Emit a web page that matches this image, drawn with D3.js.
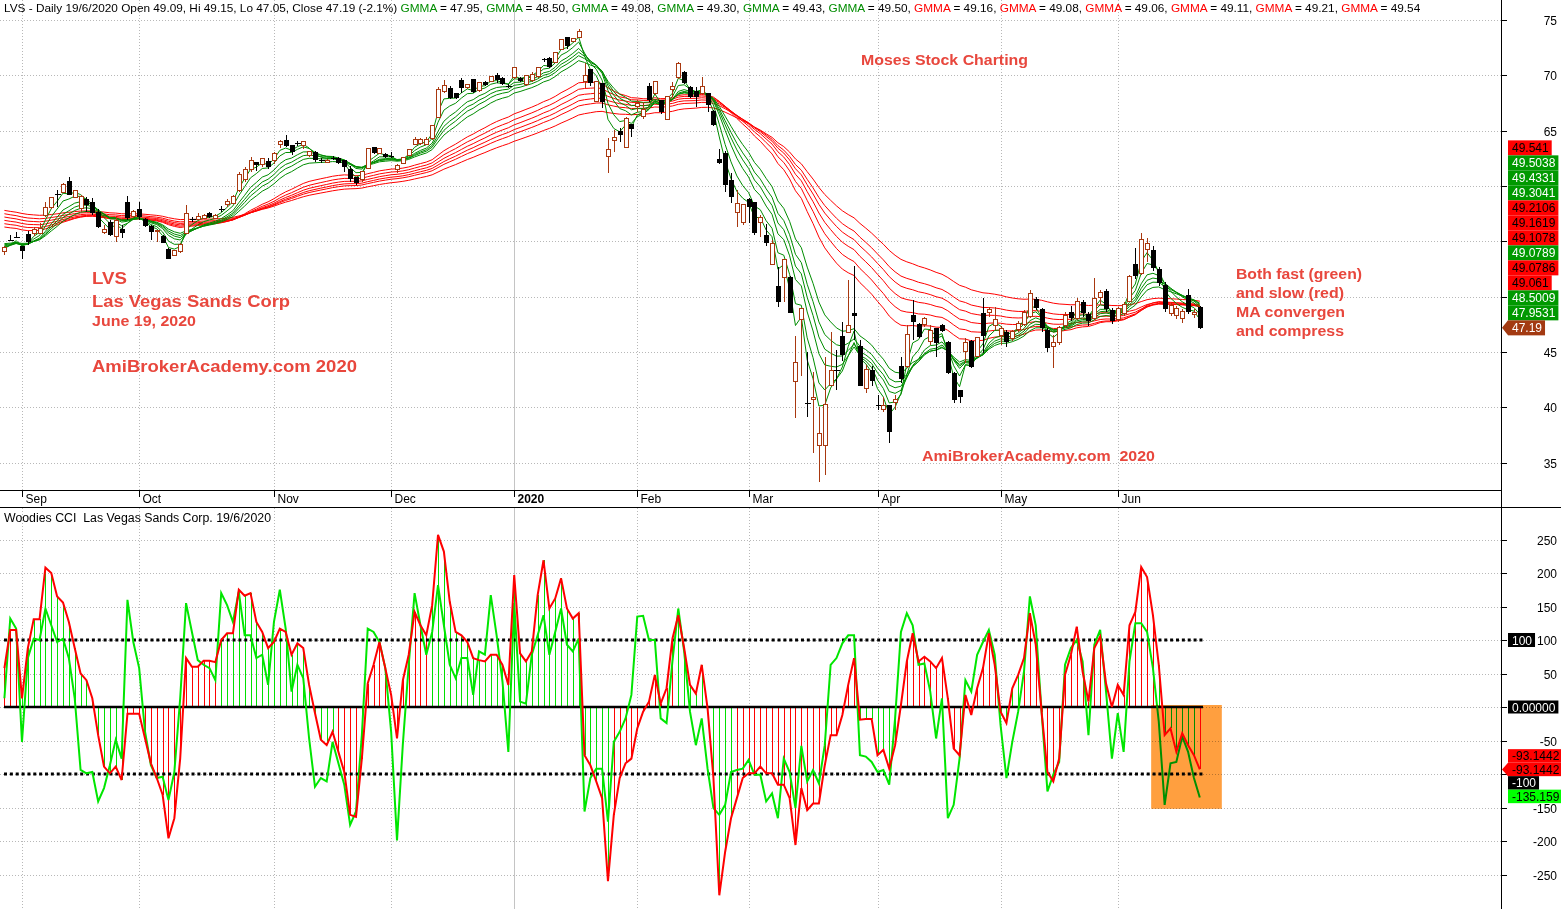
<!DOCTYPE html>
<html><head><meta charset="utf-8">
<script src="https://cdn.jsdelivr.net/npm/d3@7"></script>
<style>
body{margin:0;background:#fff;overflow:hidden}
svg{display:block;font-family:"Liberation Sans",Arial,sans-serif}
</style>
</head><body>
<svg id="c" width="1561" height="909"></svg>
<script>
// ---------------- DATA ----------------
// Daily bars, index 0 = 28 Aug 2019 ... index 204 = 19 Jun 2020
const openP = [
54.13,55.13,55.40,54.58,55.67,55.67,55.73,57.30,58.08,59.28,
59.40,60.45,58.98,57.99,58.80,58.59,57.69,55.82,56.78,55.43,
56.09,58.59,57.23,57.90,56.99,56.39,55.88,55.49,54.34,53.77,
54.07,55.73,57.00,56.99,57.08,57.60,57.08,57.90,58.29,58.44,
59.64,60.55,61.45,62.20,61.96,62.26,62.35,63.71,64.16,63.71,
63.86,63.65,62.80,63.05,62.35,62.14,62.56,62.50,62.35,61.54,
60.85,60.55,61.60,63.50,62.95,62.90,62.75,61.54,62.05,62.80,
63.77,63.86,63.77,64.31,66.18,68.50,68.83,68.38,69.58,68.89,
69.67,68.59,69.43,69.43,70.03,69.79,69.04,69.79,69.79,69.13,
69.49,69.88,71.45,71.60,71.18,72.35,73.43,73.10,73.43,69.43,
70.54,67.62,69.28,62.65,64.10,65.00,63.50,65.60,67.20,66.27,
69.04,68.32,67.77,66.03,68.68,69.82,70.33,68.98,68.62,68.38,
68.38,66.81,62.41,62.95,60.55,57.60,56.69,58.80,58.59,56.69,
55.58,52.93,50.97,51.72,51.80,42.33,47.96,40.40,40.70,36.60,
36.60,42.00,43.40,46.45,46.76,48.50,45.55,41.73,43.38,40.20,
39.77,40.22,40.44,43.70,43.69,48.35,47.54,47.45,45.94,47.20,
47.45,45.94,43.14,41.57,45.04,46.03,44.59,48.50,48.59,47.39,
46.50,46.80,46.20,47.00,47.50,48.20,49.80,48.90,47.00,45.50,
45.90,47.40,48.60,48.00,49.50,48.40,48.00,49.90,50.50,48.80,
47.90,48.50,49.60,53.00,52.10,54.30,54.20,52.50,51.10,48.50,
48.30,48.00,50.20,48.40,49.09];
const highP = [
54.58,55.57,55.85,54.60,55.94,56.30,56.63,58.60,59.00,59.65,
60.25,60.79,59.60,59.19,59.04,58.90,57.90,56.48,56.90,57.20,
56.48,59.10,57.80,58.59,57.10,56.48,55.95,55.58,54.40,54.20,
54.83,58.29,57.23,57.60,57.45,57.70,57.45,58.20,58.80,59.15,
61.30,61.75,62.65,62.20,62.50,62.50,63.10,64.16,64.60,63.71,
64.10,64.00,63.20,63.17,62.56,62.40,62.75,62.65,62.35,61.84,
60.85,61.30,63.40,63.50,63.45,63.00,63.05,61.95,62.60,63.30,
64.46,64.30,64.46,65.50,68.98,69.58,69.00,68.45,69.79,69.20,
69.70,69.40,69.50,69.95,70.25,69.85,69.20,70.75,69.85,70.00,
70.30,70.75,71.60,71.65,72.15,73.30,73.50,73.40,74.19,71.15,
70.60,69.45,69.30,64.30,65.06,65.20,66.20,65.62,67.80,67.62,
69.28,69.45,67.80,68.10,69.43,71.24,70.40,69.00,68.98,69.88,
68.40,66.85,63.32,63.20,61.15,59.64,58.35,58.90,58.60,57.38,
56.57,55.10,52.72,53.32,51.85,46.48,48.95,45.04,43.23,40.07,
44.60,46.85,45.20,47.75,51.50,52.78,46.10,43.83,43.70,41.10,
40.98,40.22,41.10,44.60,47.45,49.71,47.60,48.20,47.45,47.20,
47.50,46.00,43.20,41.60,46.24,46.10,46.40,49.86,49.10,49.10,
47.40,47.00,47.00,47.80,48.80,50.60,50.00,49.00,47.20,46.50,
47.40,48.60,49.20,49.90,49.70,48.60,51.70,50.60,50.70,49.00,
49.10,49.50,52.00,54.40,55.80,55.30,54.60,52.70,51.30,49.40,
49.20,48.90,50.70,48.90,49.15];
const lowP = [
53.77,55.10,55.38,53.38,54.67,55.50,55.70,57.20,57.90,58.08,
59.34,59.19,58.90,57.70,57.70,57.40,56.20,55.70,55.50,54.98,
55.28,56.93,57.10,56.93,56.30,55.13,54.98,54.83,53.38,53.70,
53.98,55.67,56.78,56.93,57.00,57.15,57.00,57.70,58.10,58.40,
59.50,60.40,61.30,61.36,61.70,61.54,61.96,63.40,63.56,62.80,
63.60,63.35,62.60,62.20,62.05,62.10,62.35,61.95,61.30,60.40,
60.10,60.40,61.50,62.90,62.90,62.50,62.50,61.15,61.95,62.70,
63.71,63.71,63.71,64.16,66.12,68.40,67.90,67.90,68.38,68.80,
68.40,68.50,69.05,69.40,69.35,69.10,68.90,69.70,69.40,69.05,
69.40,69.80,71.20,70.70,71.10,72.30,72.40,73.00,73.40,68.83,
69.00,67.55,67.02,61.15,63.10,64.00,63.40,64.46,66.70,66.10,
67.60,68.20,66.50,65.95,68.07,69.70,69.20,67.95,67.17,68.30,
66.72,65.45,62.00,59.50,58.44,56.27,56.50,56.63,55.58,55.43,
54.58,52.85,49.04,49.56,48.50,39.08,42.84,39.17,35.92,33.30,
33.90,41.90,41.60,44.20,46.70,46.10,41.94,41.27,41.90,39.80,
39.62,36.80,39.77,42.18,43.53,46.10,46.30,47.30,45.65,44.60,
46.80,43.00,40.37,40.37,43.98,43.60,44.55,44.90,48.20,47.00,
45.60,45.50,46.00,46.80,47.40,48.10,48.80,46.80,45.00,43.60,
45.60,47.20,47.80,47.90,48.20,47.40,47.90,49.30,48.60,47.50,
47.70,48.30,49.50,51.60,52.00,53.10,52.30,51.00,48.60,48.30,
48.00,47.60,48.40,48.10,47.05];
const closeP = [
54.46,55.13,55.40,54.16,54.98,56.12,56.18,58.05,58.98,59.28,
60.10,59.19,59.58,59.04,58.29,57.54,56.27,56.09,55.58,56.93,
55.79,57.08,57.69,57.23,56.39,55.88,55.95,54.89,53.38,54.16,
54.76,57.54,57.00,57.23,57.38,57.23,57.38,57.90,58.56,59.10,
61.00,61.54,62.35,61.90,62.50,61.75,62.95,64.00,63.65,63.05,
63.86,64.00,63.10,62.35,62.35,62.35,62.56,62.05,61.75,60.64,
60.25,61.30,63.35,62.95,63.35,62.65,62.65,61.90,62.56,63.26,
64.16,64.16,64.16,65.45,68.68,69.04,67.98,67.98,68.89,69.13,
68.47,69.37,69.13,69.88,69.58,69.19,69.04,70.69,69.49,69.97,
70.09,70.69,71.45,70.79,72.08,73.25,72.65,73.34,74.00,70.03,
69.28,69.43,67.62,63.26,64.37,64.60,66.12,65.12,67.50,66.93,
67.77,69.43,66.72,68.07,68.98,71.09,69.28,68.00,68.07,68.98,
67.32,65.51,62.11,60.10,59.04,58.38,58.29,58.14,55.79,57.17,
54.88,54.82,49.56,53.32,48.56,44.07,48.95,40.40,40.90,37.66,
40.30,43.30,43.40,44.74,47.36,48.30,41.94,43.47,42.42,40.20,
40.20,37.80,40.68,42.54,46.55,47.75,46.40,48.05,46.99,45.80,
46.93,43.08,40.67,40.97,45.85,43.68,46.34,46.45,48.86,47.96,
47.10,45.90,46.90,47.60,48.60,50.30,49.00,47.20,45.40,45.90,
47.20,48.30,48.10,49.60,48.50,47.80,49.80,50.40,48.90,47.80,
48.90,49.30,51.80,51.90,55.20,54.80,52.60,51.20,48.90,49.20,
48.90,48.70,48.60,48.60,47.19];

const cci14 = [
58,115,115,13,88,131,131,208,200,165,
156,127,88,50,40,13,-42,-89,-99,-89,
-109,-10,-10,-10,-47,-84,-106,-131,-196,-166,
-77,73,60,60,69,69,67,100,110,110,
175,166,170,127,112,88,97,117,112,78,
95,88,33,-9,-49,-57,-37,-67,-97,-161,
-164,-77,35,63,97,58,18,-47,40,78,
142,122,107,152,257,232,157,112,107,97,
73,70,68,78,78,63,33,197,80,68,
83,167,219,147,162,192,147,132,140,-72,
-87,-111,-136,-260,-161,-106,-84,-77,-32,-7,
8,48,5,28,102,137,88,33,20,63,
-2,-106,-281,-216,-166,-136,-106,-99,-99,-89,
-99,-99,-116,-116,-136,-206,-121,-154,-144,-144,
-87,-42,-42,-12,33,73,-19,-18,-18,-72,
-64,-92,-57,3,68,110,68,75,68,58,
73,13,-62,-72,18,-12,28,58,110,63,
-7,-24,28,48,73,140,93,-7,-97,-111,
-77,48,78,120,53,8,88,105,35,0,
33,18,122,142,209,194,137,63,-42,-32,
-67,-39,-57,-72,-93.1442];
const cciTurbo = [
13,132,117,-52,73,102,100,147,122,97,
102,73,13,-94,-99,-97,-141,-121,-87,-49,
-77,160,97,58,-37,-87,-106,-104,-139,-97,
13,155,112,70,63,58,40,170,152,127,
172,107,107,73,78,33,127,175,117,23,
63,43,-47,-119,-106,-111,-52,-84,-116,-176,
-156,-42,117,112,97,58,-37,-199,-55,63,
170,122,78,112,182,122,63,43,73,73,
18,83,78,167,107,38,-67,155,8,5,
78,107,137,78,112,147,93,83,102,-156,
-106,-92,-92,-171,-52,-37,-17,18,135,136,
100,100,-17,-24,68,147,83,-7,-57,-17,
-92,-151,-161,-146,-97,-94,-92,-79,-101,-101,
-141,-129,-166,-77,-97,-151,-58,-111,-94,-114,
-57,63,73,95,107,107,-72,-74,-82,-97,
-94,-116,-17,112,140,122,63,65,23,-47,
13,-166,-146,-77,40,23,78,97,115,78,
-27,-106,-52,-7,53,165,122,-7,-126,-101,
-82,63,88,100,68,-42,93,115,23,-77,
-9,-67,68,125,125,112,58,-22,-146,-84,
-82,-44,-67,-106,-135.159];
// histogram trend state per bar, as runs: [state, number of bars]
const cciHistRuns = [["dn",3],["up",18],["dn",16],["up",20],["dn",16],["up",31],["dn",11],["up",10],
  ["dn",21],["up",7],["dn",17],["up",4],["dn",23],["up",7],["dn",1]];

// GMMA: periods and the starting values read at the left edge
const gmmaFastPeriods = [3,5,8,10,12,15];
const gmmaSlowPeriods = [30,35,40,45,50,60];
const gmmaFastStart = [54.3,54.4,54.5,54.6,54.7,54.8];
const gmmaSlowStart = [56.3,56.6,56.9,57.2,57.5,57.8];
const gmmaHeaderFast = ["47.95","48.50","49.08","49.30","49.43","49.50"];
const gmmaHeaderSlow = ["49.16","49.08","49.06","49.11","49.21","49.54"];

// axis
const monthLabels = ["Sep","Oct","Nov","Dec","2020","Feb","Mar","Apr","May","Jun"];
const monthStartIdx = [3,23,46,66,87,108,127,149,170,190];
const priceTicks = [75,70,65,60,55,50,45,40,35];
const cciTicks = [250,200,150,100,50,0,-50,-100,-150,-200,-250];

// right-axis value labels
const priceBoxText = ["49.541","49.5038","49.4331","49.3041","49.2106","49.1619","49.1078","49.0789","49.0786","49.061","48.5009","47.9531","47.19"];
const priceBoxKind = ["slow","fast","fast","fast","slow","slow","slow","fast","slow","slow","fast","fast","close"];
const lastClose = 47.19;
const cciBoxText = ["-93.1442","-93.1442","-100","-135.159"];
const cciBoxKind = ["red","red","black","lime"];

// ---------------- DRAWING ----------------
const svg = d3.select("#c");
const AX = 1501;
const x = d3.scaleLinear().domain([0,204]).range([4.4,1199.8]);
const yP = d3.scaleLinear().domain([35,75]).range([462.8,20]);
const yC = d3.scaleLinear().domain([-250,250]).range([874.5,539.5]);
const cx = i => Math.round(x(i)) + 0.5;
const C_UP = "#a8380f", C_GREEN = "#008c00", C_ANN = "#e8473d";

const n = closeP.length;
const histState = cciHistRuns.flatMap(([s,k]) => Array(k).fill(s));

// grid
const grid = svg.append("g").attr("stroke","#b8b8b8").attr("stroke-dasharray","1,2");
priceTicks.forEach(v => { const yy = Math.round(yP(v))+0.5;
  grid.append("line").attr("x1",0).attr("x2",AX).attr("y1",yy).attr("y2",yy); });
cciTicks.forEach(v => { const yy = Math.round(yC(v))+0.5;
  grid.append("line").attr("x1",0).attr("x2",AX).attr("y1",yy).attr("y2",yy); });
monthStartIdx.forEach((mi,k) => {
  const xx = cx(mi);
  const solid = monthLabels[k] === "2020";
  [[0,490],[508,909]].forEach(([a,b]) => {
    const l = svg.append("line").attr("x1",xx).attr("x2",xx).attr("y1",a).attr("y2",b);
    if (solid) l.attr("stroke","#c4c4c4"); else l.attr("stroke","#b8b8b8").attr("stroke-dasharray","1,2");
  });
});

// header: one text, coloured runs laid out naturally
const hdr = svg.append("text").attr("x",4).attr("y",12).attr("font-size",11.8).attr("fill","#000").style("white-space","pre");
const hdrText = "LVS - Daily 19/6/2020 Open 49.09, Hi 49.15, Lo 47.05, Close 47.19 (-2.1%) ";
const hv = gmmaHeaderFast.map(v=>[v,C_GREEN]).concat(gmmaHeaderSlow.map(v=>[v,"#ff0000"]));
hdr.append("tspan").text(hdrText);
hv.forEach(([v,c],k) => {
  hdr.append("tspan").attr("fill",c).text("GMMA");
  hdr.append("tspan").text(" = " + v + (k < hv.length-1 ? ", " : ""));
});

// GMMA lines computed from the closes (exponential averages)
function ema(period, start) {
  const a = 2/(period+1); const out = [start];
  for (let i=1;i<n;i++) out.push(out[i-1] + a*(closeP[i]-out[i-1]));
  return out;
}
const line = d3.line().x((d,i)=>x(i)).y(d=>yP(d));
gmmaSlowPeriods.forEach((p,k) => svg.append("path").attr("d", line(ema(p, gmmaSlowStart[k])))
  .attr("fill","none").attr("stroke","#ff0000").attr("stroke-width",1));
gmmaFastPeriods.forEach((p,k) => svg.append("path").attr("d", line(ema(p, gmmaFastStart[k])))
  .attr("fill","none").attr("stroke",C_GREEN).attr("stroke-width",1));

// candles
const cg = svg.append("g").attr("shape-rendering","crispEdges");
for (let i=0;i<n;i++) {
  const o=openP[i], c=closeP[i], h=highP[i], l=lowP[i], xx=cx(i);
  const up = c>o, dn = c<o;
  const col = up ? C_UP : "#000";
  cg.append("line").attr("x1",xx).attr("x2",xx).attr("y1",yP(h)).attr("y2",yP(l)).attr("stroke",col);
  if (up) {
    cg.append("rect").attr("x",xx-2).attr("y",yP(c)).attr("width",4).attr("height",Math.max(1,yP(o)-yP(c)))
      .attr("fill","#fff").attr("stroke",col);
  } else if (dn) {
    cg.append("rect").attr("x",xx-2.5).attr("y",yP(o)).attr("width",5).attr("height",Math.max(1,yP(c)-yP(o)))
      .attr("fill","#000");
  } else {
    cg.append("line").attr("x1",xx-3).attr("x2",xx+3).attr("y1",Math.round(yP(c))+0.5).attr("y2",Math.round(yP(c))+0.5).attr("stroke","#000");
  }
}

// axes frame
svg.append("line").attr("x1",0).attr("x2",AX).attr("y1",490.5).attr("y2",490.5).attr("stroke","#000");
svg.append("line").attr("x1",0).attr("x2",1561).attr("y1",507.5).attr("y2",507.5).attr("stroke","#000");
svg.append("line").attr("x1",AX+0.5).attr("x2",AX+0.5).attr("y1",0).attr("y2",909).attr("stroke","#000");
monthStartIdx.forEach((mi,k) => {
  const xx = cx(mi);
  svg.append("line").attr("x1",xx).attr("x2",xx).attr("y1",490).attr("y2",497).attr("stroke","#000");
  svg.append("text").attr("x",xx+3).attr("y",503).attr("font-size",12)
    .attr("font-weight", monthLabels[k]==="2020" ? "bold" : "normal").text(monthLabels[k]);
});

// right value boxes (computed first so hidden tick labels can be skipped)
const fillOf = {slow:"#ff0000", fast:"#009900", close:"#a33a12", red:"#ff0000", black:"#000", lime:"#00ff00"};
const txtOf = {slow:"#000", fast:"#fff", close:"#fff", red:"#000", black:"#fff", lime:"#000"};
const boxes = [];
const baseY = yP(lastClose);
priceBoxText.forEach((t,k) => boxes.push({t, kind:priceBoxKind[k], yc: baseY - (priceBoxText.length-1-k)*15, h:15, arrow: priceBoxKind[k]==="close"}));
boxes.push({t:"100", kind:"black", yc:yC(100), h:14, arrow:false});
boxes.push({t:"0.00000", kind:"black", yc:yC(0), h:13, arrow:false});
const cBase = yC(cci14[n-1]);
cciBoxText.forEach((t,k) => boxes.push({t, kind:cciBoxKind[k], yc: cBase + (k-1)*13.5, h:13.5, arrow:k===1}));
const hiddenBy = (yy) => boxes.some(b => yy >= b.yc - b.h/2 && yy <= b.yc + b.h/2 && b.t.length > 3);

function tickLabel(v, yy) {
  svg.append("line").attr("x1",AX).attr("x2",AX+6).attr("y1",yy).attr("y2",yy).attr("stroke","#000");
  if (!hiddenBy(yy))
    svg.append("text").attr("x",1557).attr("y",yy+4).attr("text-anchor","end").attr("font-size",12).text(v);
}
priceTicks.forEach(v => tickLabel(v, Math.round(yP(v))+0.5));
cciTicks.forEach(v => tickLabel(v, Math.round(yC(v))+0.5));

// CCI pane
svg.append("text").attr("x",4).attr("y",522).attr("font-size",12)
  .attr("textLength",267).attr("lengthAdjust","spacingAndGlyphs").style("white-space","pre")
  .text("Woodies CCI  Las Vegas Sands Corp. 19/6/2020");
const hg = svg.append("g").attr("shape-rendering","crispEdges");
for (let i=0;i<n;i++) {
  hg.append("line").attr("x1",cx(i)).attr("x2",cx(i)).attr("y1",yC(0)).attr("y2",yC(cci14[i]))
    .attr("stroke", histState[i]==="up" ? "#00e000" : "#ff0000");
}
svg.append("line").attr("x1",4).attr("x2",1203).attr("y1",yC(0)).attr("y2",yC(0)).attr("stroke","#000").attr("stroke-width",2.5);
[100,-100].forEach(v => svg.append("line").attr("x1",4).attr("x2",1203).attr("y1",yC(v)).attr("y2",yC(v))
  .attr("stroke","#000").attr("stroke-width",3).attr("stroke-dasharray","3,2.86"));
const cl = d3.line().x((d,i)=>x(i)).y(d=>yC(d));
svg.append("path").attr("d",cl(cciTurbo)).attr("fill","none").attr("stroke","#00e600").attr("stroke-width",2);
svg.append("path").attr("d",cl(cci14)).attr("fill","none").attr("stroke","#ff0000").attr("stroke-width",2);
// highlight box (multiplied over the lines)
svg.append("rect").attr("x",x(195.7)).attr("y",yC(3)).attr("width",x(204)+22-x(195.7)).attr("height",yC(-152)-yC(3))
  .attr("fill","#ff9f3f").style("mix-blend-mode","multiply");

function box(b) {
  const g = svg.append("g");
  const r = g.append("rect").attr("x",1508).attr("y",b.yc-b.h/2).attr("height",b.h).attr("fill",fillOf[b.kind]);
  const tx = g.append("text").attr("x",1512).attr("y",b.yc+4.5).attr("font-size",12).attr("fill",txtOf[b.kind]).text(b.t);
  r.attr("width", tx.node().getComputedTextLength()+7);
  if (b.arrow) g.append("path").attr("d",`M1502,${b.yc}L1508,${b.yc-b.h/2}L1508,${b.yc+b.h/2}Z`).attr("fill",fillOf[b.kind]);
}
boxes.forEach(box);

// annotations
function ann(t, x0, yb, size, w) {
  svg.append("text").attr("x",x0).attr("y",yb).attr("font-size",size).attr("font-weight","bold")
    .attr("fill",C_ANN).attr("textLength",w).attr("lengthAdjust","spacingAndGlyphs").style("white-space","pre").text(t);
}
ann("Moses Stock Charting",861,65,15,167);
ann("LVS",92,284,16,35);
ann("Las Vegas Sands Corp",92,307,16,198);
ann("June 19, 2020",92,326,15,104);
ann("AmiBrokerAcademy.com 2020",92,372,17,265);
ann("AmiBrokerAcademy.com  2020",922,461,15,233);
ann("Both fast (green)",1236,279,15,126);
ann("and slow (red)",1236,298,15,108);
ann("MA convergen",1236,317,15,109);
ann("and compress",1236,336,15,108);
</script>
</body></html>
